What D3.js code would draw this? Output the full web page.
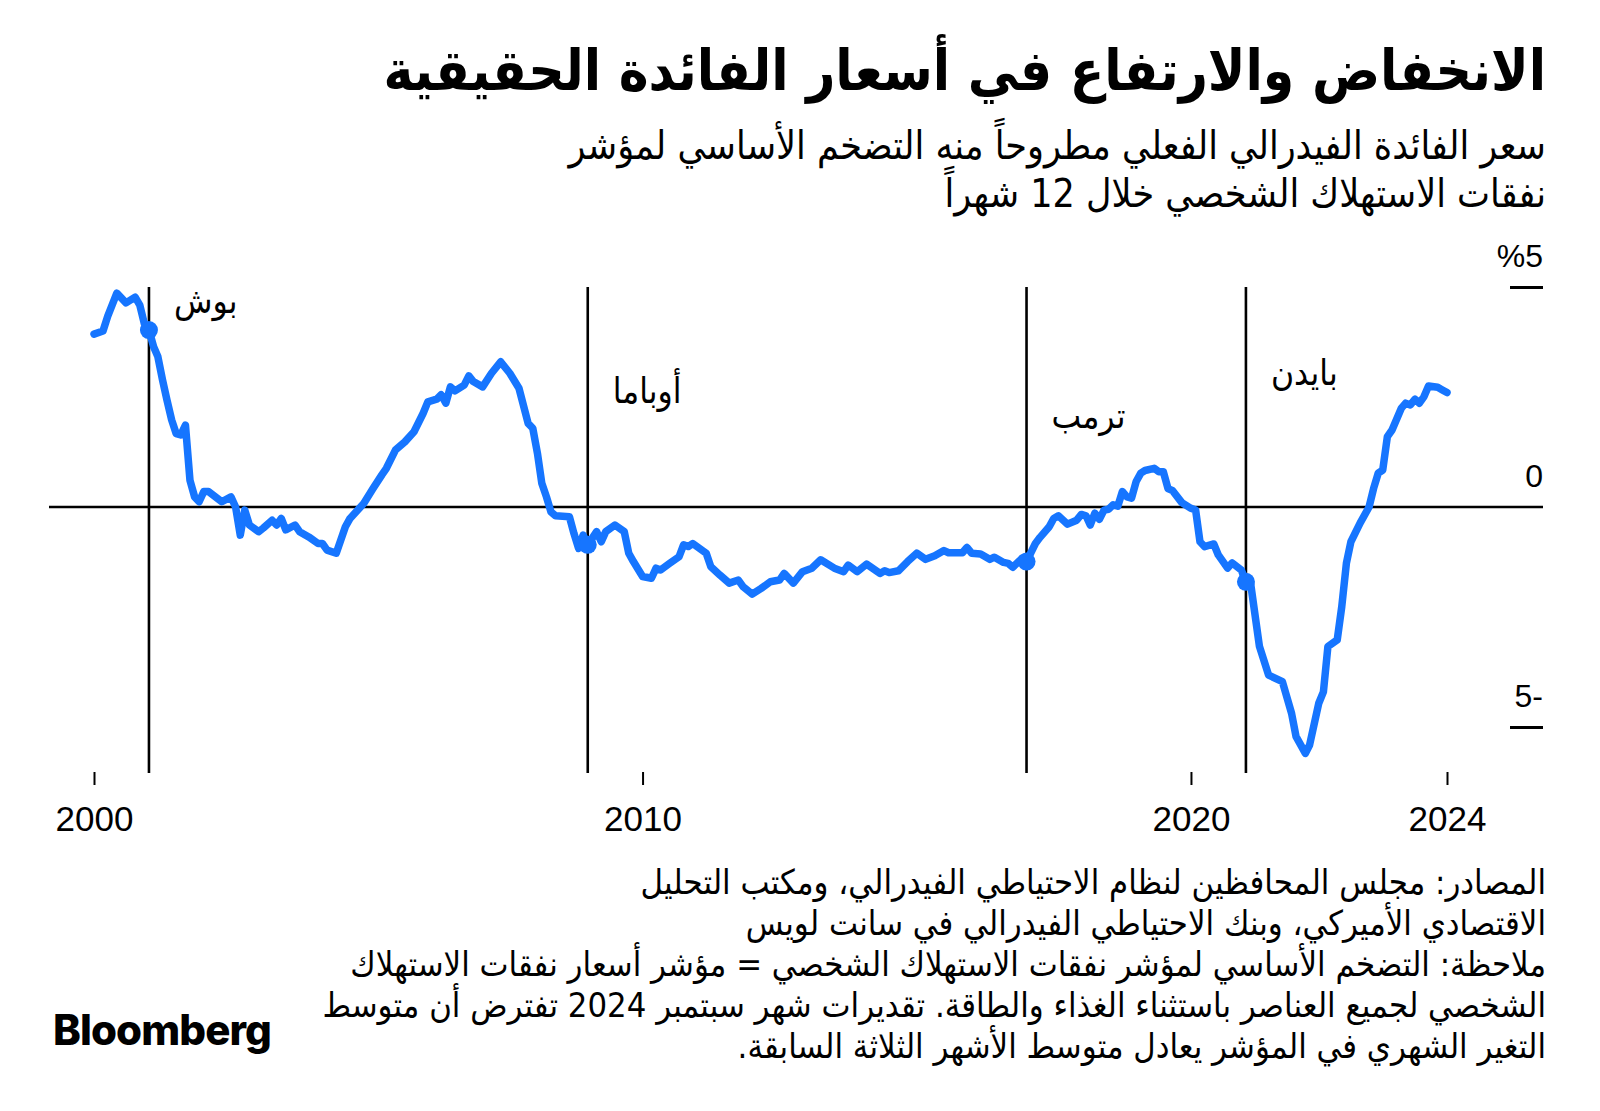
<!DOCTYPE html>
<html>
<head>
<meta charset="utf-8">
<script src="https://cdn.jsdelivr.net/npm/d3@7"></script>
<style>
  body { margin: 0; background: #fff; }
  svg { display: block; }
  .ar { font-family: "DejaVu Sans Condensed", "DejaVu Sans", sans-serif; font-stretch: condensed; }
  .num { font-family: "Liberation Sans", Arial, sans-serif; }
</style>
</head>
<body>
<div id="chart"></div>
<script>
const months = [
  "2000-01","2000-03","2000-04","2000-06","2000-08","2000-10","2000-11","2000-12",
  "2001-01","2001-02","2001-03","2001-04","2001-05","2001-06","2001-07","2001-08","2001-09","2001-10","2001-11","2001-12",
  "2002-01","2002-02","2002-05","2002-07","2002-08","2002-09","2002-10","2002-11",
  "2003-01","2003-02","2003-04","2003-05","2003-06","2003-07","2003-09","2003-10","2003-12",
  "2004-02","2004-03","2004-04","2004-06","2004-08","2004-09","2004-12",
  "2005-02","2005-04","2005-05","2005-07","2005-09","2005-11",
  "2006-01","2006-02","2006-04","2006-05","2006-06","2006-07","2006-08","2006-10","2006-11","2006-12",
  "2007-02","2007-04","2007-06","2007-08","2007-10","2007-12",
  "2008-01","2008-02","2008-03","2008-04","2008-05","2008-06","2008-09","2008-10","2008-11","2008-12",
  "2009-01","2009-03","2009-04","2009-05","2009-07","2009-09","2009-10","2009-11",
  "2010-01","2010-03","2010-04","2010-05","2010-07","2010-09","2010-10","2010-11","2010-12",
  "2011-03","2011-04","2011-06","2011-08","2011-10","2011-11",
  "2012-01","2012-03","2012-05","2012-07","2012-08","2012-10","2012-12",
  "2013-02","2013-04","2013-07","2013-09","2013-10","2013-12",
  "2014-02","2014-05","2014-06","2014-07","2014-09","2014-11",
  "2015-01","2015-03","2015-05","2015-07","2015-08","2015-11","2015-12",
  "2016-01","2016-03","2016-05","2016-06","2016-08","2016-09","2016-10","2016-12",
  "2017-01","2017-03","2017-04","2017-06","2017-07","2017-08","2017-10","2017-12",
  "2018-01","2018-02","2018-03","2018-04","2018-05","2018-06","2018-07","2018-08","2018-09","2018-10","2018-11","2018-12",
  "2019-01","2019-02","2019-03","2019-05","2019-06","2019-07","2019-08","2019-09","2019-11",
  "2020-01","2020-02","2020-03","2020-04","2020-06","2020-07","2020-09","2020-10","2020-12",
  "2021-01","2021-02","2021-04","2021-06","2021-09","2021-11","2021-12",
  "2022-02","2022-03","2022-05","2022-06","2022-07","2022-09","2022-10","2022-11","2022-12",
  "2023-02","2023-04","2023-05","2023-06","2023-07","2023-08","2023-09","2023-11","2023-12",
  "2024-01","2024-02","2024-03","2024-04","2024-05","2024-07","2024-08","2024-09"
];

const realRate = [
  3.93, 4.00, 4.33, 4.86, 4.64, 4.77, 4.59, 4.17,
  4.02, 3.64, 3.42, 2.89, 2.43, 1.98, 1.67, 1.64, 1.86, 0.61, 0.23, 0.12,
  0.35, 0.35, 0.12, 0.23, 0.00, -0.64, -0.07, -0.41,
  -0.56, -0.48, -0.30, -0.41, -0.26, -0.52, -0.41, -0.56, -0.68,
  -0.83, -0.83, -0.98, -1.05, -0.45, -0.26, 0.08,
  0.42, 0.73, 0.88, 1.30, 1.48, 1.71,
  2.13, 2.39, 2.45, 2.55, 2.36, 2.73, 2.64, 2.77, 2.98, 2.85,
  2.73, 3.04, 3.30, 3.04, 2.70, 1.90,
  1.79, 1.22, 0.54, 0.23, -0.11, -0.20, -0.22, -0.60, -0.94, -0.64,
  -0.86, -0.56, -0.79, -0.56, -0.41, -0.56, -1.05, -1.24,
  -1.58, -1.62, -1.39, -1.43, -1.28, -1.13, -0.86, -0.90, -0.83,
  -1.05, -1.36, -1.55, -1.73, -1.66, -1.81,
  -1.98, -1.85, -1.70, -1.66, -1.51, -1.73, -1.47,
  -1.39, -1.20, -1.39, -1.47, -1.32, -1.47,
  -1.30, -1.51, -1.45, -1.49, -1.45, -1.24,
  -1.05, -1.19, -1.11, -0.99, -1.04, -1.04, -0.92,
  -1.05, -1.07, -1.19, -1.14, -1.26, -1.28, -1.37, -1.17,
  -1.24, -0.83, -0.69, -0.45, -0.26, -0.20, -0.39, -0.30,
  -0.17, -0.20, -0.41, -0.14, -0.28, -0.07, -0.05, 0.05, 0.02, 0.35, 0.23, 0.20,
  0.58, 0.77, 0.83, 0.88, 0.80, 0.80, 0.42, 0.37, 0.10,
  -0.03, -0.07, -0.79, -0.90, -0.84, -1.09, -1.39, -1.27, -1.43,
  -1.70, -1.73, -3.17, -3.82, -3.97, -4.69, -5.22,
  -5.60, -5.41, -4.46, -4.20, -3.17, -3.02, -2.27, -1.28, -0.79,
  -0.36, 0.00, 0.42, 0.77, 0.84, 1.60, 1.75, 2.24, 2.36,
  2.32, 2.45, 2.36, 2.51, 2.75, 2.72, 2.66, 2.60
];

const presidents = ["بوش", "أوباما", "ترمب", "بايدن"];
const termStarts = ["2001-01", "2009-01", "2017-01", "2021-01"];

const xTickDates = ["2000-01", "2010-01", "2020-01", "2024-09"];
const xTickLabels = ["2000", "2010", "2020", "2024"];
const yTickValues = [5, 0, -5];
const yTickLabels = ["%5", "0", "5-"];

const title = "الانخفاض والارتفاع في أسعار الفائدة الحقيقية";
const subtitle = [
  "سعر الفائدة الفيدرالي الفعلي مطروحاً منه التضخم الأساسي لمؤشر",
  "نفقات الاستهلاك الشخصي خلال 12 شهراً"
];
const footnote = [
  "المصادر: مجلس المحافظين لنظام الاحتياطي الفيدرالي، ومكتب التحليل",
  "الاقتصادي الأميركي، وبنك الاحتياطي الفيدرالي في سانت لويس",
  "ملاحظة: التضخم الأساسي لمؤشر نفقات الاستهلاك الشخصي = مؤشر أسعار نفقات الاستهلاك",
  "الشخصي لجميع العناصر باستثناء الغذاء والطاقة. تقديرات شهر سبتمبر 2024 تفترض أن متوسط",
  "التغير الشهري في المؤشر يعادل متوسط الأشهر الثلاثة السابقة."
];

const blue = "#1675ff";
const W = 1600, H = 1111;
const right = 1546;

const parse = d3.timeParse("%Y-%m");
const series = months.map((m, i) => ({ date: parse(m), value: realRate[i] }));

const svg = d3.select("#chart").append("svg")
    .attr("width", W)
    .attr("height", H);

svg.append("rect").attr("width", W).attr("height", H).attr("fill", "#fff");

// scales
const x = d3.scaleTime()
    .domain([parse("2000-01"), parse("2024-09")])
    .range([94, 1447]);

const y = d3.scaleLinear()
    .domain([-5, 5])
    .range([727, 287]);

// fit a text element to a target width by scaling its font size
function fitWidth(sel, target) {
    const len = sel.node().getComputedTextLength();
    const fs = parseFloat(sel.attr("font-size"));
    const size = fs * target / len;
    sel.attr("font-size", size);
    return size;
}

// title + subtitle
const t = svg.append("text")
    .attr("class", "ar")
    .attr("direction", "rtl")
    .attr("x", right).attr("y", 90)
    .attr("font-size", 50)
    .attr("font-weight", "bold")
    .attr("fill", "#000")
    .text(title);
fitWidth(t, 1163);

const sub = svg.selectAll(".sub")
    .data(subtitle)
    .join("text")
    .attr("class", "ar sub")
    .attr("direction", "rtl")
    .attr("x", right)
    .attr("y", (d, i) => 159 + i * 48)
    .attr("font-size", 30)
    .attr("fill", "#000")
    .text(d => d);
const subSize = fitWidth(d3.select(sub.nodes()[0]), 978);
sub.attr("font-size", subSize);

// presidential term lines
svg.append("g")
    .selectAll("line")
    .data(termStarts)
    .join("line")
    .attr("x1", d => x(parse(d)))
    .attr("x2", d => x(parse(d)))
    .attr("y1", y(5))
    .attr("y2", 773)
    .attr("stroke", "#000")
    .attr("stroke-width", 2.6);

const labelY = [313, 403, 428, 385];
svg.append("g")
    .selectAll("text")
    .data(presidents)
    .join("text")
    .attr("class", "ar")
    .attr("x", (d, i) => x(parse(termStarts[i])) + 25)
    .attr("y", (d, i) => labelY[i])
    .attr("font-size", 35)
    .attr("text-anchor", "start")
    .attr("fill", "#000")
    .text(d => d);

// zero line
svg.append("line")
    .attr("x1", 49).attr("x2", 1543)
    .attr("y1", y(0)).attr("y2", y(0))
    .attr("stroke", "#000")
    .attr("stroke-width", 2.6);

// y axis (short marks on the right, labels above)
const yAxis = svg.append("g")
    .attr("transform", "translate(1543,0)")
    .call(d3.axisLeft(y)
        .tickValues(yTickValues)
        .tickSize(33)
        .tickFormat((d, i) => yTickLabels[i]));
yAxis.select(".domain").remove();
yAxis.selectAll(".tick line")
    .attr("stroke", "#000")
    .attr("stroke-width", 3)
    .attr("opacity", d => d === 0 ? 0 : 1);
yAxis.selectAll(".tick text")
    .attr("class", "num")
    .attr("x", 0)
    .attr("dy", -21)
    .attr("text-anchor", "end")
    .attr("font-size", 32)
    .attr("fill", "#000");

// x axis
const xAxis = svg.append("g")
    .attr("transform", "translate(0,772)")
    .call(d3.axisBottom(x)
        .tickValues(xTickDates.map(parse))
        .tickSize(13)
        .tickFormat((d, i) => xTickLabels[i]));
xAxis.select(".domain").remove();
xAxis.selectAll(".tick line")
    .attr("stroke", "#000")
    .attr("stroke-width", 2);
xAxis.selectAll(".tick text")
    .attr("class", "num")
    .attr("y", 59)
    .attr("dy", 0)
    .attr("font-size", 35)
    .attr("fill", "#000");

// the series line
const line = d3.line()
    .x(d => x(d.date))
    .y(d => y(d.value));

svg.append("path")
    .datum(series)
    .attr("fill", "none")
    .attr("stroke", blue)
    .attr("stroke-width", 7.5)
    .attr("stroke-linejoin", "round")
    .attr("stroke-linecap", "round")
    .attr("d", line);

// dots where a new term begins
const dots = termStarts.map(m => series.find(d => d3.timeFormat("%Y-%m")(d.date) === m));
svg.append("g")
    .selectAll("circle")
    .data(dots)
    .join("circle")
    .attr("cx", d => x(d.date))
    .attr("cy", d => y(d.value))
    .attr("r", 9)
    .attr("fill", blue);

// footnote
const foot = svg.selectAll(".foot")
    .data(footnote)
    .join("text")
    .attr("class", "ar foot")
    .attr("direction", "rtl")
    .attr("x", right)
    .attr("y", (d, i) => 894 + i * 41)
    .attr("font-size", 28)
    .attr("fill", "#000")
    .text(d => d);
const footSize = fitWidth(d3.select(foot.nodes()[2]), 1196);
foot.attr("font-size", footSize);

// logo
svg.append("text")
    .attr("x", 53).attr("y", 1045)
    .attr("font-family", "Inter, Roboto, sans-serif")
    .attr("font-weight", 800)
    .attr("font-size", 42)
    .attr("letter-spacing", -0.9)
    .attr("fill", "#000")
    .text("Bloomberg");
</script>
</body>
</html>
